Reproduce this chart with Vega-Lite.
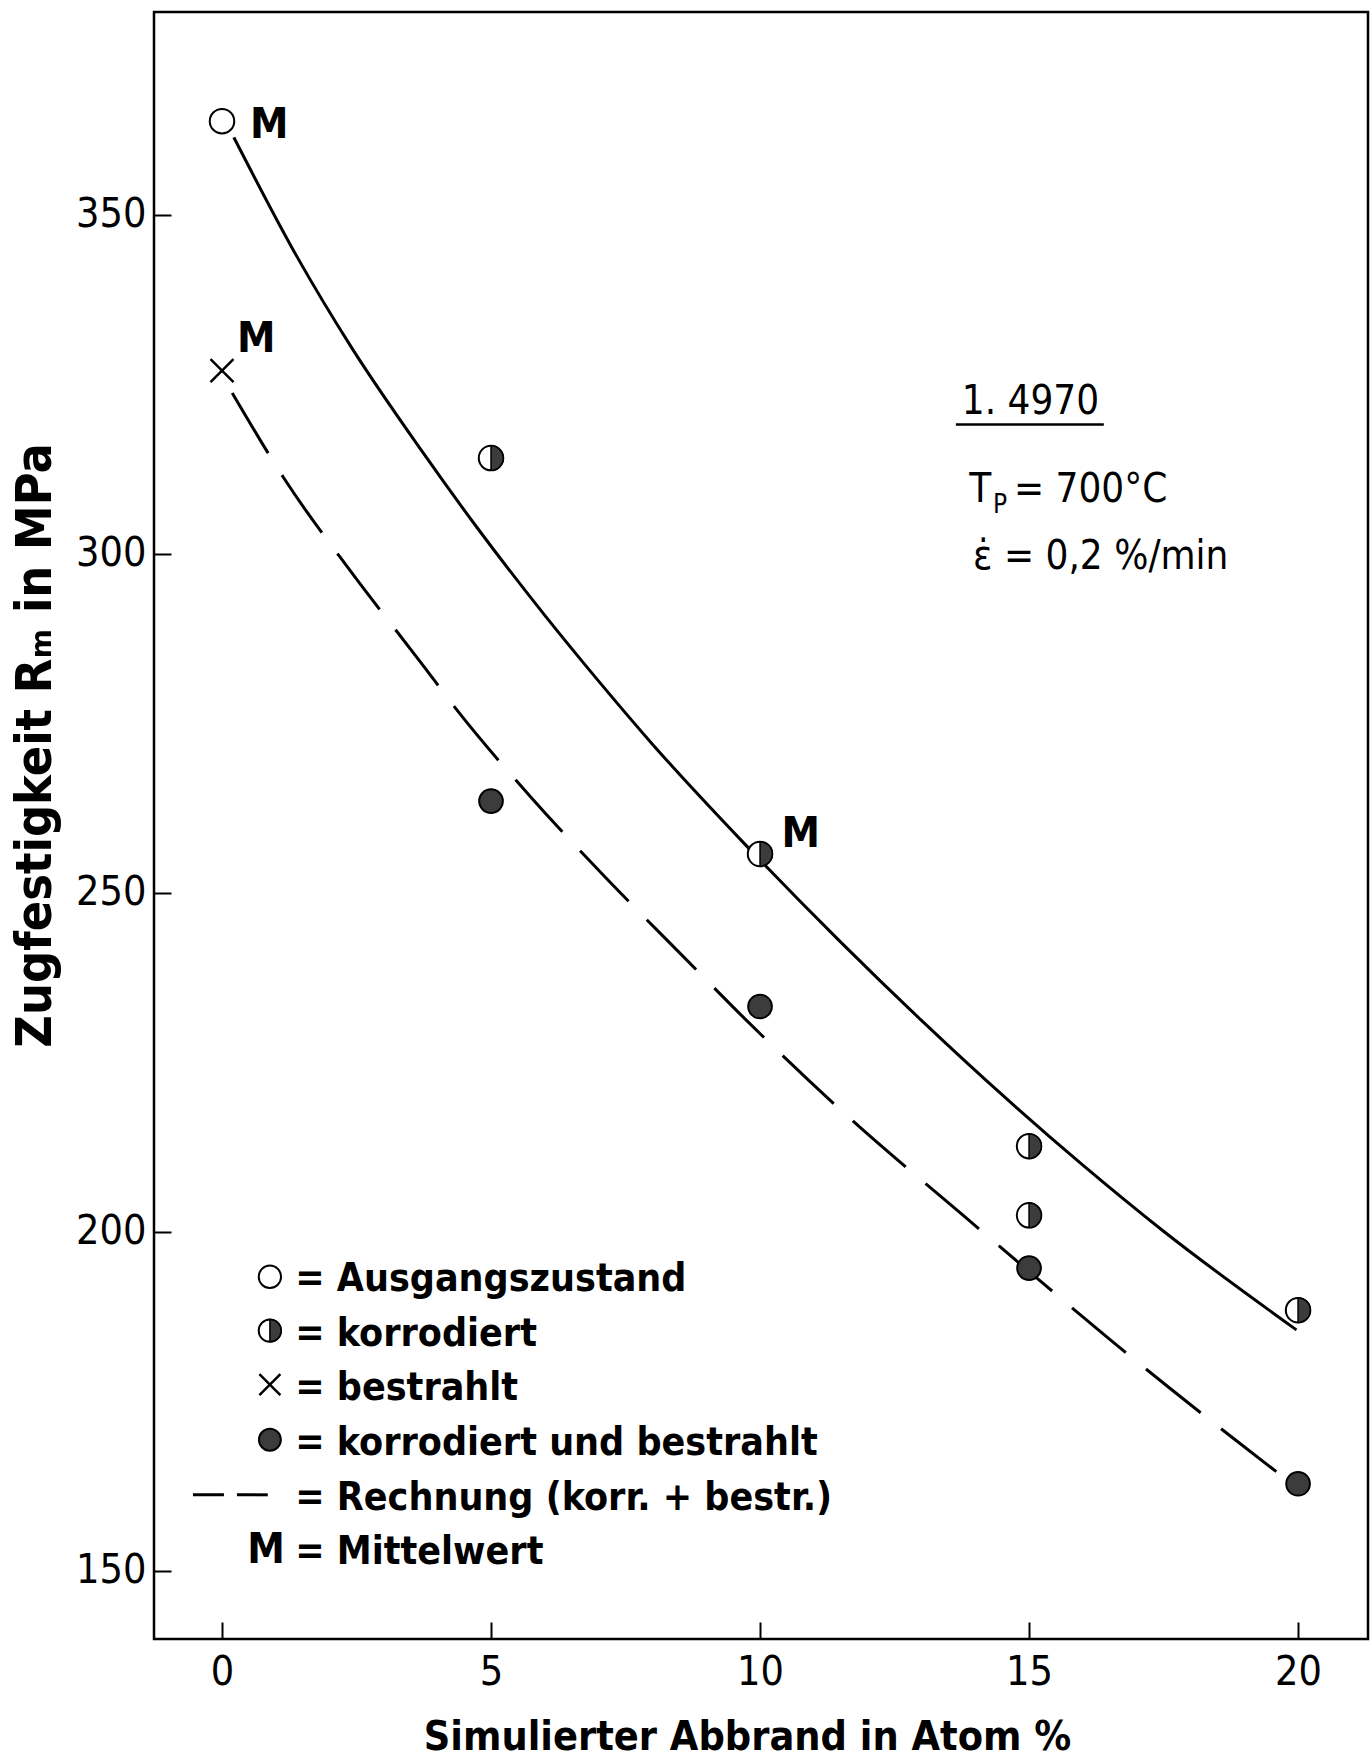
{
  "$schema": "https://vega.github.io/schema/vega-lite/v6.json",
  "width": 1214,
  "height": 1627,
  "autosize": {"type": "none"},
  "padding": {"left": 154, "top": 12, "right": 4, "bottom": 125},
  "background": "white",
  "config": {
    "font": "Liberation Sans Narrow, DejaVu Sans Condensed, Liberation Sans, sans-serif",
    "view": {"stroke": "black", "strokeWidth": 2.5},
    "axis": {
      "domain": false,
      "grid": false,
      "tickColor": "black",
      "tickWidth": 2,
      "tickSize": -17,
      "labelColor": "black",
      "labelFont": "Liberation Sans Narrow, DejaVu Sans Condensed, Liberation Sans, sans-serif",
      "labelFontSize": 41,
      "titleColor": "black",
      "titleFont": "Liberation Sans Narrow, DejaVu Sans Condensed, Liberation Sans, sans-serif",
      "titleFontSize": 41,
      "titleFontWeight": "bold"
    }
  },
  "datasets": {
    "one": [{}],
    "solid": [
      {"x": 0.22, "y": 361.4}, {"x": 1.38, "y": 344.0}, {"x": 2.4, "y": 330.5}, {"x": 3.7, "y": 315.3},
      {"x": 4.75, "y": 303.75}, {"x": 6.0, "y": 290.9}, {"x": 7.0, "y": 281.2}, {"x": 8.0, "y": 271.9},
      {"x": 9.7, "y": 257.3}, {"x": 11.5, "y": 242.7}, {"x": 13.0, "y": 231.15}, {"x": 14.58, "y": 219.6},
      {"x": 16.0, "y": 209.8}, {"x": 17.5, "y": 200.05}, {"x": 19.97, "y": 185.5}
    ],
    "dashed": [
      {"x": 0.19, "y": 323.7}, {"x": 1.17, "y": 310.9}, {"x": 2.4, "y": 297.3}, {"x": 3.7, "y": 283.9},
      {"x": 4.35, "y": 277.1}, {"x": 5.75, "y": 264.0}, {"x": 7.12, "y": 252.3}, {"x": 8.57, "y": 240.6},
      {"x": 9.73, "y": 231.3}, {"x": 11.7, "y": 216.5}, {"x": 13.7, "y": 202.9}, {"x": 15.3, "y": 192.1},
      {"x": 16.5, "y": 184.1}, {"x": 17.6, "y": 177.0}, {"x": 18.7, "y": 170.1}, {"x": 19.61, "y": 164.5}
    ],
    "points": [
      {"x": 0, "y": 363.8, "state": "Ausgangszustand"},
      {"x": 0, "y": 327.0, "state": "bestrahlt"},
      {"x": 5, "y": 314.1, "state": "korrodiert"},
      {"x": 10, "y": 255.7, "state": "korrodiert"},
      {"x": 15, "y": 212.6, "state": "korrodiert"},
      {"x": 15, "y": 202.4, "state": "korrodiert"},
      {"x": 20, "y": 188.4, "state": "korrodiert"},
      {"x": 5, "y": 263.5, "state": "korrodiert und bestrahlt"},
      {"x": 10, "y": 233.2, "state": "korrodiert und bestrahlt"},
      {"x": 15, "y": 194.6, "state": "korrodiert und bestrahlt"},
      {"x": 20, "y": 162.8, "state": "korrodiert und bestrahlt"}
    ],
    "mean": [
      {"x": 0.52, "y": 361.25, "label": "M"},
      {"x": 0.28, "y": 329.8, "label": "M"},
      {"x": 10.4, "y": 256.7, "label": "M"}
    ]
  },
  "layer": [
    {
      "data": {"name": "solid"},
      "mark": {"type": "line", "interpolate": "monotone", "color": "black", "strokeWidth": 3},
      "encoding": {
        "x": {
          "field": "x", "type": "quantitative",
          "scale": {"domain": [-1.264, 21.3], "nice": false, "zero": false},
          "axis": {"values": [0, 5, 10, 15, 20], "format": "d", "title": "Simulierter Abbrand in Atom %", "labelPadding": 30, "titleX": 593, "titleY": 110, "titleBaseline": "alphabetic"}
        },
        "y": {
          "field": "y", "type": "quantitative",
          "scale": {"domain": [139.9, 379.9], "nice": false, "zero": false},
          "axis": {"values": [150, 200, 250, 300, 350], "format": "d", "title": "Zugfestigkeit Rₘ in MPa", "titleFontSize": 50, "labelPadding": 25, "titleX": -104, "titleY": 733, "titleBaseline": "alphabetic"}
        }
      }
    },
    {
      "data": {"name": "dashed"},
      "mark": {"type": "line", "interpolate": "monotone", "color": "black", "strokeWidth": 3, "strokeDash": [70, 26]},
      "encoding": {"x": {"field": "x", "type": "quantitative"}, "y": {"field": "y", "type": "quantitative"}}
    },
    {
      "data": {"name": "points"},
      "transform": [{"filter": "datum.state == 'Ausgangszustand'"}],
      "mark": {"type": "point", "shape": "circle", "filled": true, "fill": "white", "stroke": "black", "strokeWidth": 2, "size": 600, "opacity": 1},
      "encoding": {"x": {"field": "x", "type": "quantitative"}, "y": {"field": "y", "type": "quantitative"}}
    },
    {
      "data": {"name": "points"},
      "transform": [{"filter": "datum.state == 'bestrahlt'"}],
      "mark": {"type": "point", "shape": "M-1,-1L1,1M-1,1L1,-1", "filled": false, "stroke": "black", "strokeWidth": 2.5, "size": 529, "opacity": 1},
      "encoding": {"x": {"field": "x", "type": "quantitative"}, "y": {"field": "y", "type": "quantitative"}}
    },
    {
      "data": {"name": "points"},
      "transform": [{"filter": "datum.state == 'korrodiert'"}],
      "mark": {"type": "point", "shape": "circle", "filled": true, "fill": "white", "stroke": "black", "strokeWidth": 2, "size": 600, "opacity": 1},
      "encoding": {"x": {"field": "x", "type": "quantitative"}, "y": {"field": "y", "type": "quantitative"}}
    },
    {
      "data": {"name": "points"},
      "transform": [{"filter": "datum.state == 'korrodiert'"}],
      "mark": {"type": "point", "shape": "M0,-1A1,1,0,0,1,0,1Z", "filled": true, "fill": "#3c3c3c", "stroke": "black", "strokeWidth": 1.5, "size": 600, "opacity": 1},
      "encoding": {"x": {"field": "x", "type": "quantitative"}, "y": {"field": "y", "type": "quantitative"}}
    },
    {
      "data": {"name": "points"},
      "transform": [{"filter": "datum.state == 'korrodiert und bestrahlt'"}],
      "mark": {"type": "point", "shape": "circle", "filled": true, "fill": "#3c3c3c", "stroke": "black", "strokeWidth": 2, "size": 560, "opacity": 1},
      "encoding": {"x": {"field": "x", "type": "quantitative"}, "y": {"field": "y", "type": "quantitative"}}
    },
    {
      "data": {"name": "mean"},
      "mark": {"type": "text", "align": "left", "baseline": "alphabetic", "fontSize": 43, "fontWeight": "bold", "color": "black"},
      "encoding": {"x": {"field": "x", "type": "quantitative"}, "y": {"field": "y", "type": "quantitative"}, "text": {"field": "label"}}
    },
    {
      "data": {"name": "one"},
      "mark": {"type": "text", "align": "left", "baseline": "alphabetic", "fontSize": 40, "color": "black", "text": "1. 4970"},
      "encoding": {"x": {"datum": 13.75}, "y": {"datum": 320.55}}
    },
    {
      "data": {"name": "one"},
      "mark": {"type": "rule", "color": "black", "strokeWidth": 2.5},
      "encoding": {"x": {"datum": 13.64}, "x2": {"datum": 16.39}, "y": {"datum": 319.05}}
    },
    {
      "data": {"name": "one"},
      "mark": {"type": "text", "align": "left", "baseline": "alphabetic", "fontSize": 40, "color": "black", "text": "T"},
      "encoding": {"x": {"datum": 13.89}, "y": {"datum": 307.6}}
    },
    {
      "data": {"name": "one"},
      "mark": {"type": "text", "align": "left", "baseline": "alphabetic", "fontSize": 26, "color": "black", "text": "P"},
      "encoding": {"x": {"datum": 14.33}, "y": {"datum": 306.0}}
    },
    {
      "data": {"name": "one"},
      "mark": {"type": "text", "align": "left", "baseline": "alphabetic", "fontSize": 40, "color": "black", "text": "= 700°C"},
      "encoding": {"x": {"datum": 14.72}, "y": {"datum": 307.6}}
    },
    {
      "data": {"name": "one"},
      "mark": {"type": "text", "align": "left", "baseline": "alphabetic", "fontSize": 40, "color": "black", "text": "ε̇ = 0,2 %/min"},
      "encoding": {"x": {"datum": 13.96}, "y": {"datum": 297.8}}
    },
    {
      "data": {"name": "one"},
      "mark": {"type": "point", "shape": "circle", "filled": true, "fill": "white", "stroke": "black", "strokeWidth": 2, "size": 500, "opacity": 1},
      "encoding": {"x": {"datum": 0.89}, "y": {"datum": 193.33}}
    },
    {
      "data": {"name": "one"},
      "mark": {"type": "point", "shape": "circle", "filled": true, "fill": "white", "stroke": "black", "strokeWidth": 2, "size": 500, "opacity": 1},
      "encoding": {"x": {"datum": 0.89}, "y": {"datum": 185.38}}
    },
    {
      "data": {"name": "one"},
      "mark": {"type": "point", "shape": "M0,-1A1,1,0,0,1,0,1Z", "filled": true, "fill": "#3c3c3c", "stroke": "black", "strokeWidth": 1.5, "size": 500, "opacity": 1},
      "encoding": {"x": {"datum": 0.89}, "y": {"datum": 185.38}}
    },
    {
      "data": {"name": "one"},
      "mark": {"type": "point", "shape": "M-1,-1L1,1M-1,1L1,-1", "filled": false, "stroke": "black", "strokeWidth": 2.5, "size": 440, "opacity": 1},
      "encoding": {"x": {"datum": 0.89}, "y": {"datum": 177.42}}
    },
    {
      "data": {"name": "one"},
      "mark": {"type": "point", "shape": "circle", "filled": true, "fill": "#3c3c3c", "stroke": "black", "strokeWidth": 2, "size": 480, "opacity": 1},
      "encoding": {"x": {"datum": 0.89}, "y": {"datum": 169.29}}
    },
    {
      "data": {"name": "one"},
      "mark": {"type": "rule", "color": "black", "strokeWidth": 3, "strokeDash": [31, 13]},
      "encoding": {"x": {"datum": -0.54}, "x2": {"datum": 0.85}, "y": {"datum": 161.17}}
    },
    {
      "data": {"name": "one"},
      "mark": {"type": "text", "align": "center", "baseline": "middle", "fontSize": 42, "fontWeight": "bold", "color": "black", "text": "M"},
      "encoding": {"x": {"datum": 0.82}, "y": {"datum": 153.04}}
    },
    {
      "data": {"name": "one"},
      "mark": {
        "type": "text", "align": "left", "baseline": "alphabetic", "fontSize": 39, "fontWeight": "bold", "color": "black", "lineHeight": 54.6,
        "text": ["= Ausgangszustand", "= korrodiert", "= bestrahlt", "= korrodiert  und  bestrahlt", "= Rechnung (korr. + bestr.)", "= Mittelwert"]
      },
      "encoding": {"x": {"datum": 1.36}, "y": {"datum": 191.2}}
    }
  ]
}
